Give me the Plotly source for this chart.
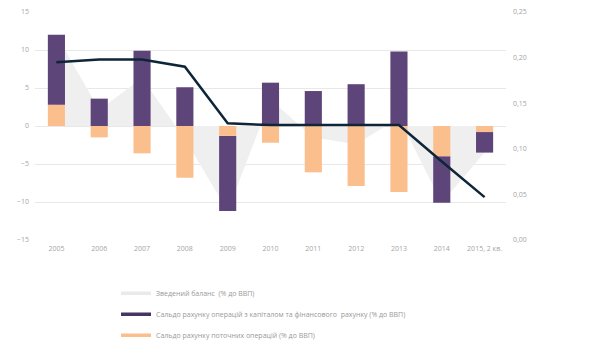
import plotly.graph_objects as go

categories = ["2005", "2006", "2007", "2008", "2009", "2010", "2011", "2012", "2013", "2014", "2015, 2 кв."]
current_account = [2.8, -1.5, -3.6, -6.8, -1.3, -2.2, -6.1, -7.9, -8.7, -4.0, -0.8]
capital_financial = [9.2, 3.6, 9.9, 5.1, -9.9, 5.7, 4.6, 5.5, 9.8, -6.1, -2.7]
overall_balance = [12.0, 2.1, 6.3, -1.7, -11.2, 3.5, -1.5, -2.4, 1.1, -10.1, -3.5]
line_values = [0.195, 0.198, 0.198, 0.190, 0.128, 0.126, 0.126, 0.126, 0.126, 0.086, 0.047]

name_overall = "Зведений баланс  (% до ВВП)"
name_capfin = "Сальдо рахунку операцій з капіталом та фінансового  рахунку (% до ВВП)"
name_current = "Сальдо рахунку поточних операцій (% до ВВП)"

c_gray = "#efefef"
c_purple = "#5d4479"
c_orange = "#fbbf8e"
c_line = "#0e2538"

fig = go.Figure()
# area on the base axis (drawn first, below bars)
fig.add_trace(go.Scatter(x=categories, y=overall_balance, mode="lines", line=dict(width=0, color=c_gray),
                         fill="tozeroy", fillcolor=c_gray, showlegend=False, hoverinfo="skip", yaxis="y"))
# bars on an overlaid axis with same range
fig.add_trace(go.Bar(x=categories, y=current_account, marker=dict(color=c_orange, line=dict(width=0)),
                     width=0.4, showlegend=False, yaxis="y2"))
fig.add_trace(go.Bar(x=categories, y=capital_financial, marker=dict(color=c_purple, line=dict(width=0)),
                     width=0.4, showlegend=False, yaxis="y2"))
# line on right axis
fig.add_trace(go.Scatter(x=categories, y=line_values, mode="lines", line=dict(color=c_line, width=2.5),
                         yaxis="y3", showlegend=False))

# legend entries
for nm, col, grp in [(name_overall, "#eaeaea", "a"), (name_capfin, "#45355f", "b"), (name_current, c_orange, "c")]:
    fig.add_trace(go.Scatter(x=[None], y=[None], mode="lines", name=nm, legendgroup=grp,
                             line=dict(color=col, width=3.5)))

tick_font = dict(size=7, color="#a5a5a5")
fig.update_layout(
    width=600, height=350,
    margin=dict(l=35, r=94, t=12, b=110, autoexpand=False),
    paper_bgcolor="white", plot_bgcolor="white",
    barmode="relative",
    separators=", ",
    font=dict(family="Open Sans", size=7, color="#999999"),
    xaxis=dict(showgrid=False, zeroline=False, showline=False, ticks="", tickfont=tick_font,
               ticklabelstandoff=3),
    yaxis=dict(range=[-15, 15], dtick=5, showgrid=True, gridcolor="#e8e8e8", gridwidth=1,
               zeroline=False, showline=False, ticks="", tickfont=tick_font, ticklabelstandoff=5),
    yaxis2=dict(range=[-15, 15], overlaying="y", side="left", showgrid=False, zeroline=False,
                showline=False, ticks="", showticklabels=False),
    yaxis3=dict(range=[0, 0.25], dtick=0.05, tickformat=".2f", overlaying="y", side="right",
                showgrid=False, zeroline=False, showline=False, ticks="", tickfont=tick_font,
                ticklabelstandoff=6),
    legend=dict(x=0.172, y=-0.17, xanchor="left", yanchor="top",
                orientation="v", traceorder="grouped", tracegroupgap=2, itemwidth=30,
                font=dict(size=7, color="#999999"), bgcolor="rgba(0,0,0,0)"),
)

fig.write_html("out.html")
